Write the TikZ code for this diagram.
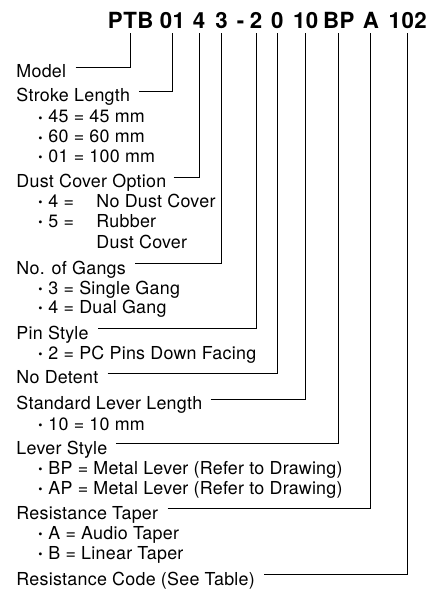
\documentclass[tikz,border=0pt]{standalone}
\usepackage{fontspec}
\setmainfont[LetterSpace=1.5]{TeX Gyre Heros}
\newfontfamily\partfont[LetterSpace=2]{TeX Gyre Heros}
\usepackage{tikz}
\usetikzlibrary{calc}

\newcommand{\bul}{\makebox[7.5pt][l]{\raisebox{0.7pt}{\fontsize{9}{9}\selectfont\textbullet}}}
\newcommand{\opt}[1]{\makebox[36pt][l]{#1}}

\tikzset{
  ttl/.style={anchor=base,inner sep=0pt,outer ysep=3.5pt,font=\partfont\bfseries\fontsize{16.7}{20}\selectfont},
  lbl/.style={anchor=base west,inner sep=0pt,font=\fontsize{13.4}{15}\selectfont},
  itm/.style={lbl},
}

\begin{document}
\begin{tikzpicture}[x=0.75pt,y=-0.75pt,line width=0.65pt]
\useasboundingbox (0,0) rectangle (440,591);

% Part number, one node per field
\node[ttl] (t1) at (130.7,28.3) {PTB};
\node[ttl] (t2) at (172.5,28.3) {01};
\node[ttl] (t3) at (199,28.3) {4};
\node[ttl] (t4) at (221.5,28.3) {3};
\node[ttl] (dsh) at (240.5,28.3) {-};
\node[ttl] (t5) at (256,28.3) {2};
\node[ttl] (t6) at (277.3,28.3) {0};
\node[ttl] (t7) at (305.7,28.3) {10};
\node[ttl] (t8) at (338.7,28.3) {BP};
\node[ttl] (t9) at (370.8,28.3) {A};
\node[ttl] (t10) at (407.7,28.3) {102};

% Field names and options
\node[lbl] (mdl) at (16,77.5) {Model};
\node[lbl] (strk) at (16,102) {Stroke Length};
\node[itm] (s1) at (38,123) {\bul 45 = 45 mm};
\node[itm] (s2) at (38,143) {\bul 60 = 60 mm};
\node[itm] (s3) at (38,162.7) {\bul 01 = 100 mm};
\node[lbl] (dust) at (16,188) {Dust Cover Option};
\node[itm] (d1) at (38,207.7) {\bul\opt{4 =}No Dust Cover};
\node[itm] (d2) at (38,227.7) {\bul\opt{5 =}Rubber};
\node[itm] (d3) at (96,248) {Dust Cover};
\node[lbl] (gang) at (16,274) {No. of Gangs};
\node[itm] (g1) at (38,294) {\bul 3 = Single Gang};
\node[itm] (g2) at (38,313.5) {\bul 4 = Dual Gang};
\node[lbl] (pin) at (16,339) {Pin Style};
\node[itm] (p1) at (38,359.3) {\bul 2 = PC Pins Down Facing};
\node[lbl] (det) at (16,383.5) {No Detent};
\node[lbl] (len) at (16,409.5) {Standard Lever Length};
\node[itm] (l1) at (38,430) {\bul 10 = 10 mm};
\node[lbl] (lev) at (16,454) {Lever Style};
\node[itm] (v1) at (38,474) {\bul BP = Metal Lever (Refer to Drawing)};
\node[itm] (v2) at (38,494) {\bul AP = Metal Lever (Refer to Drawing)};
\node[lbl] (tap) at (16,519.3) {Resistance Taper};
\node[itm] (a1) at (38,539.3) {\bul A = Audio Taper};
\node[itm] (a2) at (38,559.3) {\bul B = Linear Taper};
\node[lbl] (code) at (16,585) {Resistance Code (See Table)};

% Leader lines up to the part number
\draw (mdl.base east) ++(9,-10.5) -| (t1.south);
\draw (strk.base east) ++(9,-10.5) -| (t2.south);
\draw (dust.base east) ++(7,-10.5) -| (t3.south);
\draw (gang.base east) ++(9,-10.5) -| (t4.south);
\draw (pin.base east) ++(9,-10.5) -| (t5.south);
\draw (det.base east) ++(9,-10.5) -| (t6.south);
\draw (len.base east) ++(8,-10.5) -| (t7.south);
\draw (lev.base east) ++(8,-10.5) -| (t8.south);
\draw (tap.base east) ++(9,-10.5) -| (t9.south);
\draw (code.base east) ++(9,-10.5) -| (t10.south);
\end{tikzpicture}
\end{document}
